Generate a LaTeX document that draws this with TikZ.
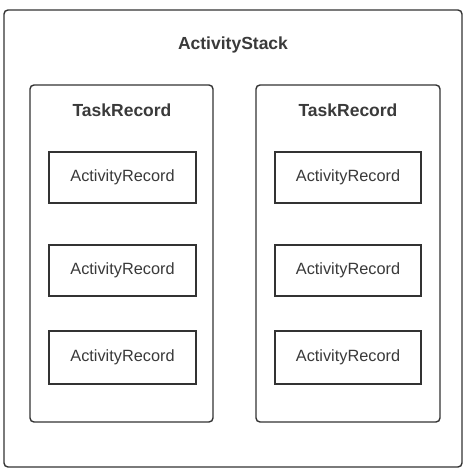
\documentclass[tikz,border=0pt]{standalone}
\usepackage{fontspec}
\setmainfont{Liberation Sans}
\definecolor{ink}{HTML}{333333}
\definecolor{txt}{HTML}{3A3A3A}
\begin{document}
\begin{tikzpicture}[x=1pt,y=-1pt,
  stackbox/.style={draw=ink,line width=1.4pt,rounded corners=4pt},
  taskbox/.style={draw=ink,line width=1.4pt,rounded corners=4pt},
  actbox/.style={draw=ink,line width=1.4pt,text=txt,font=\fontsize{16.3}{18}\selectfont},
  title/.style={text=txt,font=\fontsize{17.5}{20}\selectfont\bfseries}]
\useasboundingbox (0,0) rectangle (467,472);
\fill[white] (0,0) rectangle (467,472);
% outer stack
\draw[stackbox] (4,10) rectangle (462,467);
\node[title] (stack) at (233,45) {ActivityStack};
% task records
\draw[taskbox] (30,85) rectangle (213,422);
\draw[taskbox] (256,85) rectangle (440,422);
\node[title] (t1) at (122,110) {TaskRecord};
\node[title] (t2) at (348,110) {TaskRecord};
% activity records
\foreach \n/\xa/\xb in {l/49/196, r/275/421}{
  \foreach \k/\ya/\yb in {1/152/203, 2/245/296, 3/331/384}{
    \draw[actbox] (\xa,\ya) rectangle (\xb,\yb);
    \node[text=txt,font=\fontsize{16.3}{18}\selectfont] (a\n\k) at ({(\xa+\xb)/2},{(\ya+\yb)/2}) {ActivityRecord};
  }
}
\end{tikzpicture}
\end{document}
